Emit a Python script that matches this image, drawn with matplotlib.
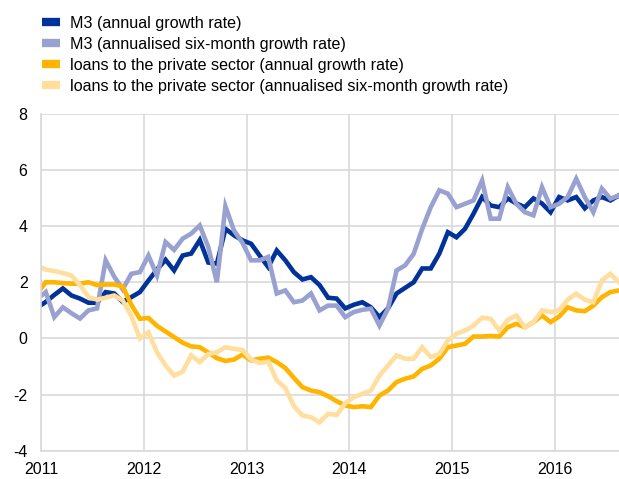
import numpy as np
import matplotlib
matplotlib.use("Agg")
import matplotlib.pyplot as plt

plt.rcParams['font.family'] = ['Liberation Sans', 'DejaVu Sans']
plt.rcParams['axes.unicode_minus'] = False

# Monthly observations, Dec 2010 - Aug 2016 (percentages)
months = np.arange(-1, 68)  # months since Jan 2011
m3_annual = [1.1, 1.3, 1.55, 1.78, 1.53, 1.42, 1.27, 1.27, 1.65, 1.6,
             1.3, 1.47, 1.65, 2.06, 2.45, 2.8, 2.42, 2.95, 3.02, 3.5,
             2.7, 2.66, 3.9, 3.67, 3.49, 3.37, 2.95, 2.54, 3.13, 2.78,
             2.36, 2.1, 2.18, 1.9, 1.45, 1.42, 1.07, 1.2, 1.29, 1.11,
             0.76, 1.07, 1.6, 1.8, 2.0, 2.49, 2.49, 3.02, 3.78, 3.6,
             3.9, 4.44, 5.03, 4.73, 4.67, 4.98, 4.8, 4.67, 4.98, 4.8,
             4.49, 5.03, 4.91, 5.03, 4.63, 4.91, 5.03, 4.91, 5.09]
m3_sixmonth = [1.4, 1.65, 0.76, 1.11, 0.9, 0.71, 1.0, 1.07, 2.78, 2.2,
               1.75, 2.3, 2.36, 2.95, 2.24, 3.43, 3.15, 3.55, 3.73, 4.02,
               3.25, 2.0, 4.7, 3.84, 3.4, 2.78, 2.78, 2.9, 1.6, 1.71,
               1.29, 1.35, 1.6, 1.0, 1.17, 1.17, 0.76, 0.94, 1.02, 1.06,
               0.46, 1.06, 2.42, 2.6, 3.01, 3.9, 4.67, 5.27, 5.15, 4.67,
               4.79, 4.91, 5.62, 4.26, 4.26, 5.38, 4.79, 4.49, 4.38, 5.38,
               4.67, 4.79, 5.03, 5.68, 5.03, 4.49, 5.33, 4.97, 5.09]
loans_annual = [1.6, 2.0, 2.0, 1.97, 1.95, 1.95, 2.0, 1.9, 1.92, 1.92,
                1.85, 1.2, 0.7, 0.73, 0.45, 0.25, 0.05, -0.15, -0.28, -0.31,
                -0.5, -0.7, -0.8, -0.75, -0.57, -0.78, -0.72, -0.68, -0.84, -1.05,
                -1.4, -1.73, -1.85, -1.91, -2.05, -2.23, -2.38, -2.44, -2.41, -2.44,
                -2.03, -1.85, -1.55, -1.43, -1.35, -1.08, -0.96, -0.72, -0.31, -0.25,
                -0.19, 0.07, 0.07, 0.09, 0.07, 0.4, 0.52, 0.4, 0.58, 0.82,
                0.58, 0.78, 1.11, 1.0, 0.97, 1.17, 1.47, 1.65, 1.71]
loans_sixmonth = [2.6, 2.45, 2.4, 2.33, 2.24, 1.9, 1.47, 1.38, 1.45, 1.53,
                  1.35, 0.8, 0.0, 0.22, -0.49, -0.96, -1.32, -1.18, -0.6, -0.84,
                  -0.55, -0.49, -0.31, -0.37, -0.41, -0.75, -0.87, -0.82, -1.49, -1.76,
                  -2.4, -2.74, -2.8, -2.98, -2.68, -2.72, -2.3, -2.09, -1.97, -1.85,
                  -1.32, -0.96, -0.6, -0.72, -0.72, -0.31, -0.66, -0.55, -0.07, 0.17,
                  0.28, 0.46, 0.74, 0.7, 0.28, 0.66, 0.82, 0.4, 0.58, 1.0,
                  0.94, 1.0, 1.38, 1.59, 1.38, 1.29, 2.06, 2.3, 2.0]

labels = ["M3 (annual growth rate)",
          "M3 (annualised six-month growth rate)",
          "loans to the private sector (annual growth rate)",
          "loans to the private sector (annualised six-month growth rate)"]
colors = ["#003299", "#98A1D0", "#FFB400", "#FFDE9E"]
years = [2011, 2012, 2013, 2014, 2015, 2016]
y_ticks = [-4, -2, 0, 2, 4, 6, 8]

x = 2011 + (months + 0.5) / 12  # mid-month positions

fig = plt.figure(figsize=(6.19, 4.79), dpi=100)
ax = fig.add_axes([0.067, 0.0585, 0.933, 0.7045])

series = [m3_annual, m3_sixmonth, loans_annual, loans_sixmonth]
for vals, c, lab in zip(series, colors, labels):
    ax.plot(x, vals, color=c, lw=3.3, label=lab, solid_joinstyle='miter')

ax.set_xlim(2011, x[-1])
ax.set_ylim(-4, 8)
ax.set_xticks(years)
ax.set_yticks(y_ticks)
ax.grid(True, color="#d9d9d9", lw=1.2)
ax.set_axisbelow(True)
ax.tick_params(length=0, labelsize=11.5, colors="#000000")
ax.tick_params(axis='y', pad=10)
ax.tick_params(axis='x', pad=8)
for s in ["top", "right"]:
    ax.spines[s].set_visible(False)
for s in ["left", "bottom"]:
    ax.spines[s].set_color("#d9d9d9")
    ax.spines[s].set_linewidth(1.2)

handles = [plt.Line2D([], [], color=c, lw=6, solid_capstyle='butt') for c in colors]
fig.legend(handles, labels, loc="upper left", bbox_to_anchor=(0.058, 0.98),
           frameon=False, fontsize=11.6, handlelength=1.1, handletextpad=0.6,
           labelspacing=0.37, borderaxespad=0)

fig.savefig("out.png", dpi=100)
